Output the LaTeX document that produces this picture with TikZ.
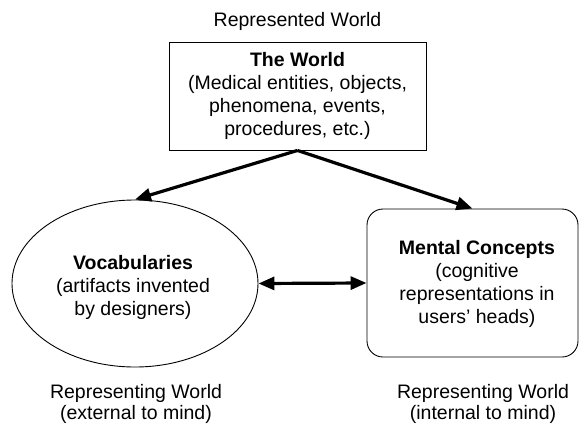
\documentclass[tikz,border=0pt]{standalone}
\usepackage{fontspec}
\setmainfont{Liberation Sans}
\usetikzlibrary{arrows.meta,shapes.geometric}
\begin{document}
\begin{tikzpicture}[x=1pt,y=-1pt,
  every node/.style={font=\fontsize{19.5}{23}\selectfont, align=center, inner sep=0pt},
  lbl/.style={font=\fontsize{19.5}{20.5}\selectfont},
  thin box/.style={draw, line width=0.9pt},
  big arrow/.style={line width=3.2pt, -{Triangle[length=16pt,width=13pt]}},
  dbl arrow/.style={line width=3.2pt, {Triangle[length=16pt,width=13pt]}-{Triangle[length=16pt,width=13pt]}}]
\useasboundingbox (0,0) rectangle (579,429);
\node (top) at (297.5,21) {Represented World};
\node[thin box, rectangle, minimum width=257pt, minimum height=108pt] (world) at (297.5,96)
  {\textbf{The World}\\(Medical entities, objects,\\phenomena, events,\\procedures, etc.)};
\node[thin box, ellipse, minimum width=246pt, minimum height=167pt] (vocab) at (135,283.5) {};
\node (vocabtxt) at (133,287) {\textbf{Vocabularies}\\(artifacts invented\\by designers)};
\node[thin box, rectangle, rounded corners=16pt, minimum width=211pt, minimum height=148pt] (mental) at (472.5,283) {};
\node (mentaltxt) at (477,284) {\textbf{Mental Concepts}\\(cognitive\\representations in\\users' heads)};
\node[lbl] (lblleft) at (136,404) {Representing World\\(external to mind)};
\node[lbl] (lblright) at (483,404) {Representing World\\(internal to mind)};
\draw[big arrow] (world.south) -- (vocab.north);
\draw[big arrow] (world.south) -- (mental.north);
\draw[dbl arrow] (vocab.east) -- (mental.west);
\end{tikzpicture}
\end{document}
